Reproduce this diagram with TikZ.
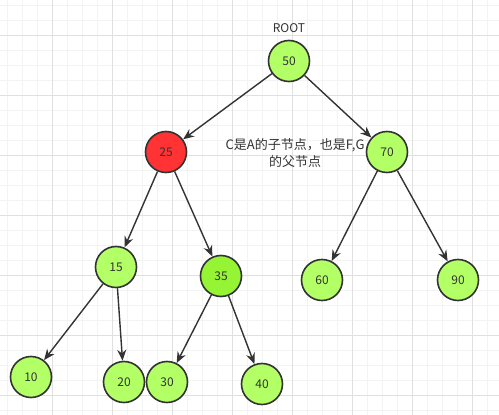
\documentclass[tikz,border=0pt]{standalone}
\usepackage{fontspec}
\setmainfont{Noto Sans CJK SC}
\usetikzlibrary{arrows.meta}
\definecolor{lgreen}{HTML}{B3FF66}
\definecolor{dgreen}{HTML}{95F535}
\definecolor{nred}{HTML}{FF3333}
\definecolor{ink}{HTML}{333333}
\definecolor{gminor}{HTML}{F3F3F3}
\definecolor{gmajor}{HTML}{E0E0E0}
\tikzset{
  treenode/.style={circle, draw=ink, line width=1.6pt, minimum size=41pt, inner sep=0pt,
    font=\fontsize{12}{14}\selectfont, text=ink},
  greennode/.style={treenode, fill=lgreen},
  brightnode/.style={treenode, fill=dgreen},
  rednode/.style={treenode, fill=nred},
  edge/.style={draw=ink, line width=1.4pt, -{Stealth[length=11pt,width=9pt]}},
  lbl/.style={font=\fontsize{12}{16}\selectfont, text=ink, align=center, inner sep=0pt},
  notelbl/.style={font=\fontsize{13}{17}\selectfont, text=ink, align=center, inner sep=0pt}
}
\begin{document}
\begin{tikzpicture}[x=1pt,y=-1pt]
\useasboundingbox (0,0) rectangle (499,415);
\fill[white] (0,0) rectangle (499,415);
% grid
\foreach \gx in {7,22,...,499} \draw[gminor, line width=0.8pt] (\gx,0) -- (\gx,415);
\foreach \gy in {5.5,20.5,...,415} \draw[gminor, line width=0.8pt] (0,\gy) -- (499,\gy);
\foreach \gx in {-8,52,...,499} \draw[gmajor, line width=0.8pt] (\gx,0) -- (\gx,415);
\foreach \gy in {35.5,95.5,...,415} \draw[gmajor, line width=0.8pt] (0,\gy) -- (499,\gy);
% label (behind node 70)
\node[notelbl] (note) at (295,153.5) {C是A的子节点，也是F,G\\的父节点};
% nodes
\node[lbl] (root) at (289,28) {ROOT};
\node[greennode] (n50) at (289,61) {50};
\node[rednode] (n25) at (166,152) {25};
\node[greennode] (n70) at (387,152) {70};
\node[greennode] (n15) at (116,267) {15};
\node[brightnode] (n35) at (221,276) {35};
\node[greennode] (n60) at (322,280) {60};
\node[greennode] (n90) at (458,280) {90};
\node[greennode] (n10) at (31,377) {10};
\node[greennode] (n20) at (124,382) {20};
\node[greennode] (n30) at (167,382) {30};
\node[greennode] (n40) at (262,384) {40};
% edges
\draw[edge] (n50) -- (n25);
\draw[edge] (n50) -- (n70);
\draw[edge] (n25) -- (n15);
\draw[edge] (n25) -- (n35);
\draw[edge] (n15) -- (n10);
\draw[edge] (n15) -- (n20);
\draw[edge] (n35) -- (n30);
\draw[edge] (n35) -- (n40);
\draw[edge] (n70) -- (n60);
\draw[edge] (n70) -- (n90);
\end{tikzpicture}
\end{document}
